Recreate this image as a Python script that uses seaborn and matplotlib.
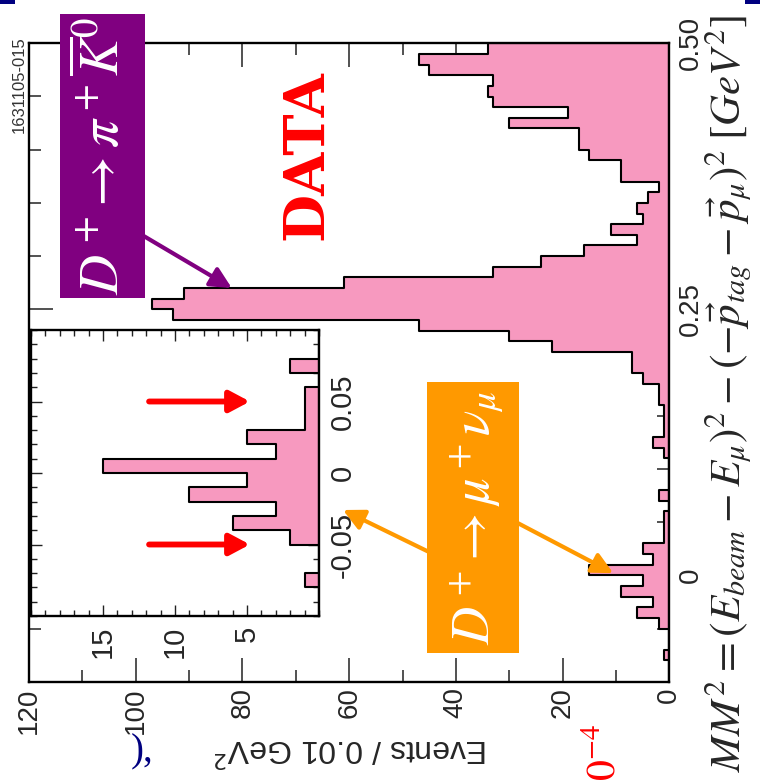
import numpy as np
import pandas as pd
import matplotlib
matplotlib.use("Agg")
import matplotlib.pyplot as plt
import matplotlib.transforms as mtransforms
from matplotlib.patches import Rectangle
from matplotlib.ticker import MultipleLocator, FixedLocator, FixedFormatter
import seaborn as sns

# Missing-mass-squared histogram, 0.01 GeV^2 bins from -0.10 to 0.50
bin_lo = -0.10
bin_hi = 0.50
bin_width = 0.01
counts = [0, 0, 1, 0, 0, 2, 6, 3, 9, 5,
          15, 3, 5, 1, 1, 1, 0, 2, 0, 0,
          0, 1, 3, 1, 1, 1, 2, 2, 5, 7,
          7, 22, 30, 47, 93, 97, 91, 61, 33, 24,
          16, 6, 11, 5, 6, 4, 2, 9, 9, 15,
          17, 17, 30, 19, 33, 34, 33, 45, 47, 34]

# zoomed signal region
inset_lo = -0.10
inset_hi = 0.10
signal_cut = [-0.05, 0.05]

event_ticks = [0, 20, 40, 60, 80, 100, 120]
mm2_ticks = [0, 0.25, 0.50]
mm2_tick_labels = ["0", "0.25", "0.50"]
inset_event_ticks = [5, 10, 15]
inset_mm2_ticks = [-0.05, 0, 0.05]
inset_mm2_labels = ["-0.05", "0", "0.05"]

PINK = "#F799BF"
PURPLE = "#800080"
ORANGE = "#FF9900"
RED = "#FF0000"
NAVY = "#000080"

sns.set_style("white")
plt.rcParams["font.family"] = ["Liberation Sans", "DejaVu Sans"]
plt.rcParams["mathtext.fontset"] = "stix"
plt.rcParams["axes.unicode_minus"] = False

edges = [round(bin_lo + i * bin_width, 2) for i in range(len(counts) + 1)]
centers = [round(e + bin_width / 2, 3) for e in edges[:-1]]
df = pd.DataFrame({"mm2": centers, "events": counts})

W, H = 760, 783
fig = plt.figure(figsize=(W / 100, H / 100), dpi=100)


def fpos(x, y):
    """pixel position (origin top-left) -> figure fraction"""
    return (x / W, 1 - y / H)


def frame(ax, lw):
    for s in ax.spines.values():
        s.set_visible(True)
        s.set_color("black")
        s.set_linewidth(lw)


def turn_labels(ax):
    """tick labels read bottom-to-top"""
    for t in ax.xaxis.get_major_ticks():
        for lbl in (t.label1, t.label2):
            lbl.set_rotation(90)
            lbl.set_rotation_mode("anchor")
            lbl.set_ha("right")
            lbl.set_va("center")
    for t in ax.yaxis.get_major_ticks():
        for lbl in (t.label1, t.label2):
            lbl.set_rotation(90)
            lbl.set_rotation_mode("anchor")
            lbl.set_ha("center")
            lbl.set_va("top")


def centre_labels(ax, renderer):
    """shift each rotated tick label so its box is centred on its tick"""
    for t in ax.xaxis.get_major_ticks():
        lbl = t.label1
        if not lbl.get_visible() or not lbl.get_text():
            continue
        bb = lbl.get_window_extent(renderer)
        tx = ax.transData.transform((t.get_loc(), ax.get_ylim()[0]))[0]
        dx = tx - 0.5 * (bb.x0 + bb.x1)
        lbl.set_transform(lbl.get_transform() + mtransforms.Affine2D().translate(dx, 0))
    for t in ax.yaxis.get_major_ticks():
        lbl = t.label2
        if not lbl.get_visible() or not lbl.get_text():
            continue
        bb = lbl.get_window_extent(renderer)
        ty = ax.transData.transform((ax.get_xlim()[0], t.get_loc()))[1]
        dy = ty - 0.5 * (bb.y0 + bb.y1)
        lbl.set_transform(lbl.get_transform() + mtransforms.Affine2D().translate(0, dy))


# ---- main histogram (rotated: events run right-to-left, MM^2 upward)
ax = fig.add_axes([29 / W, 1 - 681.7 / H, 640.3 / W, 638.4 / H])
sns.histplot(data=df, y="mm2", weights="events", bins=edges, element="step",
             fill=True, color=PINK, alpha=1, edgecolor="black", linewidth=1.5,
             ax=ax)
ax.set_xlim(event_ticks[-1], event_ticks[0])
ax.set_ylim(bin_lo, bin_hi)
frame(ax, 1.7)
ax.xaxis.set_major_locator(FixedLocator(event_ticks))
ax.xaxis.set_minor_locator(MultipleLocator(10))
ax.yaxis.set_major_locator(FixedLocator(mm2_ticks))
ax.yaxis.set_major_formatter(FixedFormatter(mm2_tick_labels))
ax.yaxis.set_minor_locator(MultipleLocator(0.05))
ax.tick_params(which="both", direction="in", top=True, bottom=True,
               left=True, right=True, labelleft=False, labelright=True,
               width=1.1, color="#222222")
ax.tick_params(which="major", length=17)
ax.tick_params(which="minor", length=8.5)
ax.tick_params(axis="x", labelsize=20, pad=4)
ax.tick_params(axis="y", labelsize=20, pad=6)
turn_labels(ax)
ax.set_ylabel("")
ax.set_xlabel("Events / 0.01 GeV$^2$", fontsize=23, rotation=180)
ax.xaxis.label.set_va("center")
ax.xaxis.set_label_coords(0.503, -0.104)
ax.xaxis.label.set_math_fontfamily("dejavusans")

# ---- inset: signal region
axi = fig.add_axes([31 / W, 1 - 616 / H, 288 / W, 286 / H])
sub = df[(df["mm2"] > inset_lo) & (df["mm2"] < inset_hi)]
inset_edges = [e for e in edges if inset_lo - 1e-9 <= e <= inset_hi + 1e-9]
sns.histplot(data=sub, y="mm2", weights="events", bins=inset_edges,
             element="step", fill=True, color=PINK, alpha=1,
             edgecolor="black", linewidth=1.5, ax=axi)
axi.set_xlim(20, 0)
axi.set_ylim(inset_lo, inset_hi)
axi.set_facecolor("white")
frame(axi, 1.7)
axi.xaxis.set_major_locator(FixedLocator(inset_event_ticks))
axi.xaxis.set_minor_locator(MultipleLocator(1))
axi.yaxis.set_major_locator(FixedLocator(inset_mm2_ticks))
axi.yaxis.set_major_formatter(FixedFormatter(inset_mm2_labels))
axi.yaxis.set_minor_locator(MultipleLocator(0.01))
axi.tick_params(which="both", direction="in", top=True, bottom=True,
                left=True, right=True, labelleft=False, labelright=True,
                width=1.0, color="#222222")
axi.tick_params(which="major", length=8)
axi.tick_params(which="minor", length=4.3)
axi.tick_params(axis="x", labelsize=21, pad=7)
axi.tick_params(axis="y", labelsize=21, pad=7)
turn_labels(axi)
axi.set_xlabel("")
axi.set_ylabel("")

# signal-window arrows
for cut in signal_cut:
    axi.annotate("", xy=(4.8, cut), xytext=(11.8, cut),
                 arrowprops=dict(arrowstyle="-|>,head_length=0.6,head_width=0.32",
                                 color=RED, lw=4.2, mutation_scale=20,
                                 shrinkA=0, shrinkB=0))

# ---- annotation arrows
ax.annotate("", xy=(82, 0.27), xytext=fpos(142, 235),
            textcoords="figure fraction",
            arrowprops=dict(arrowstyle="-|>,head_length=0.7,head_width=0.35",
                            color=PURPLE, lw=3, mutation_scale=18,
                            shrinkA=0, shrinkB=0))
ax.annotate("", xy=(10.5, 0.002), xytext=fpos(470, 498),
            textcoords="figure fraction",
            arrowprops=dict(arrowstyle="-|>,head_length=0.7,head_width=0.35",
                            color=ORANGE, lw=3, mutation_scale=18,
                            shrinkA=0, shrinkB=0))
ax.annotate("", xy=fpos(343, 510), xycoords="figure fraction",
            xytext=fpos(470, 572), textcoords="figure fraction",
            arrowprops=dict(arrowstyle="-|>,head_length=0.7,head_width=0.35",
                            color=ORANGE, lw=3, mutation_scale=18,
                            shrinkA=0, shrinkB=0))

# ---- labelled boxes
x0, y0 = fpos(60, 298)
fig.add_artist(Rectangle((x0, y0), 85 / W, 284 / H, transform=fig.transFigure,
                         facecolor=PURPLE, edgecolor="none", zorder=5))
fig.text(*fpos(103, 156), r"$D^+\!\rightarrow\pi^+\overline{K}^0$", color="white",
         fontsize=40, rotation=90, ha="center", va="center", zorder=6)

x0, y0 = fpos(427, 653)
fig.add_artist(Rectangle((x0, y0), 92 / W, 271 / H, transform=fig.transFigure,
                         facecolor=ORANGE, edgecolor="none", zorder=5))
fig.text(*fpos(476, 518), r"$D^+\!\rightarrow\mu^+\nu_\mu$", color="white",
         fontsize=38, rotation=90, ha="center", va="center", zorder=6)

fig.text(*fpos(307, 155), "DATA", color=RED, fontsize=40, fontweight="bold",
         fontfamily="DejaVu Serif", rotation=90, ha="center", va="center",
         zorder=6)

fig.text(*fpos(19, 85), "1631105-015", color="#333333", fontsize=12,
         rotation=90, ha="center", va="center")

# ---- horizontal-axis quantity, running along the right side
fig.text(*fpos(728, 394),
         r"$MM^2=(E_{beam}-E_{\mu})^2-(-\vec{p}_{tag}-\vec{p}_{\mu})^2\;[GeV^2]$",
         fontsize=31, rotation=90, ha="center", va="center")

# ---- slide fragments around the figure
fig.text(*fpos(142, 752), "),", color=NAVY, fontsize=28,
         fontfamily="Liberation Serif", ha="center", va="center")
fig.text(*fpos(604, 752), r"$0^{-4}$", color=RED, fontsize=30, rotation=90,
         ha="center", va="center")
for xl in (0, 745):
    x0, y0 = fpos(xl, 4)
    fig.add_artist(Rectangle((x0, y0), 15 / W, 4 / H, transform=fig.transFigure,
                             facecolor=NAVY, edgecolor="none"))

fig.canvas.draw()
renderer = fig.canvas.get_renderer()
centre_labels(ax, renderer)
centre_labels(axi, renderer)

fig.savefig("out.png", dpi=100, facecolor="white")
